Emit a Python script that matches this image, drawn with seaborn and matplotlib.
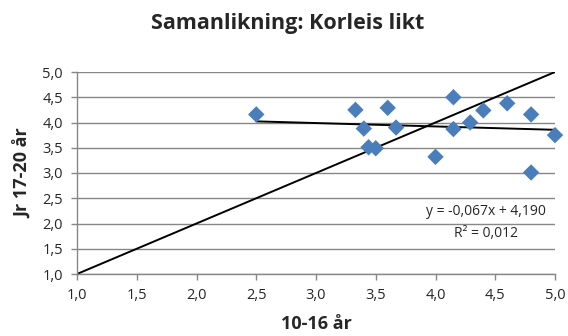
import matplotlib
matplotlib.use("Agg")
import matplotlib.pyplot as plt
import seaborn as sns
import numpy as np
import pandas as pd

# Data
x_vals = [2.50, 3.33, 3.40, 3.44, 3.50, 3.60, 3.67, 4.00, 4.15, 4.15, 4.29, 4.40, 4.60, 4.80, 4.80, 5.00]
y_vals = [4.16, 4.25, 3.88, 3.51, 3.49, 4.29, 3.90, 3.32, 4.50, 3.87, 4.00, 4.24, 4.38, 4.16, 3.01, 3.75]
trend_slope = -0.067
trend_intercept = 4.190
r_squared = 0.012
diag_x = [1.0, 5.0]
diag_y = [1.0, 5.0]
x_ticks = [1.0, 1.5, 2.0, 2.5, 3.0, 3.5, 4.0, 4.5, 5.0]
y_ticks = [1.0, 1.5, 2.0, 2.5, 3.0, 3.5, 4.0, 4.5, 5.0]

title = "Samanlikning: Korleis likt"
x_label = "10-16 år"
y_label = "Jr 17-20 år"

sns.set_theme(style="white")
plt.rcParams['font.family'] = ['Open Sans', 'DejaVu Sans']

fig = plt.figure(figsize=(5.68, 3.36), dpi=100)
W, H = 568, 336
ax = fig.add_axes([77 / W, 1 - 274 / H, (555 - 77) / W, (274 - 72) / H])

df = pd.DataFrame({"x": x_vals, "y": y_vals})

# diagonal
ax.plot(diag_x, diag_y, color="black", lw=1.4, zorder=2)
# trend line
tx = np.array([min(x_vals), max(x_vals)])
ax.plot(tx, trend_slope * tx + trend_intercept, color="black", lw=1.4, zorder=2)

sns.scatterplot(data=df, x="x", y="y", ax=ax, marker="D", s=70,
                color="#4A7EBB", edgecolor="none", zorder=3, clip_on=False)

ax.set_xlim(1.0, 5.0)
ax.set_ylim(1.0, 5.0)
ax.set_xticks(x_ticks)
ax.set_yticks(y_ticks)
ax.set_xticklabels([f"{v:.1f}".replace(".", ",") for v in x_ticks], fontsize=10.5)
ax.set_yticklabels([f"{v:.1f}".replace(".", ",") for v in y_ticks], fontsize=10.5)
ax.grid(axis="y", color="#878787", lw=1.0)
ax.set_axisbelow(True)
for s in ["top", "right"]:
    ax.spines[s].set_visible(False)
for s in ["left", "bottom"]:
    ax.spines[s].set_color("#878787")
    ax.spines[s].set_linewidth(1.0)
ax.tick_params(axis="both", which="major", direction="out", length=4, width=1,
               color="#878787", pad=6, bottom=True, left=True)

ax.set_xlabel(x_label, fontsize=13, fontweight="bold", labelpad=9)
ax.set_ylabel(y_label, fontsize=13, fontweight="bold", labelpad=7)
fig.text(288 / W, 1 - 23 / H, title, ha="center", va="center",
         fontsize=15.5, fontweight="bold")

eq = f"y = {trend_slope:.3f}x + {trend_intercept:.3f}".replace(".", ",")
r2 = f"R² = {r_squared:.3f}".replace(".", ",")
ax.text(4.42, 2.23, eq, ha="center", va="center", fontsize=10)
ax.text(4.42, 1.81, r2, ha="center", va="center", fontsize=10)

fig.savefig("out.png", dpi=100)
